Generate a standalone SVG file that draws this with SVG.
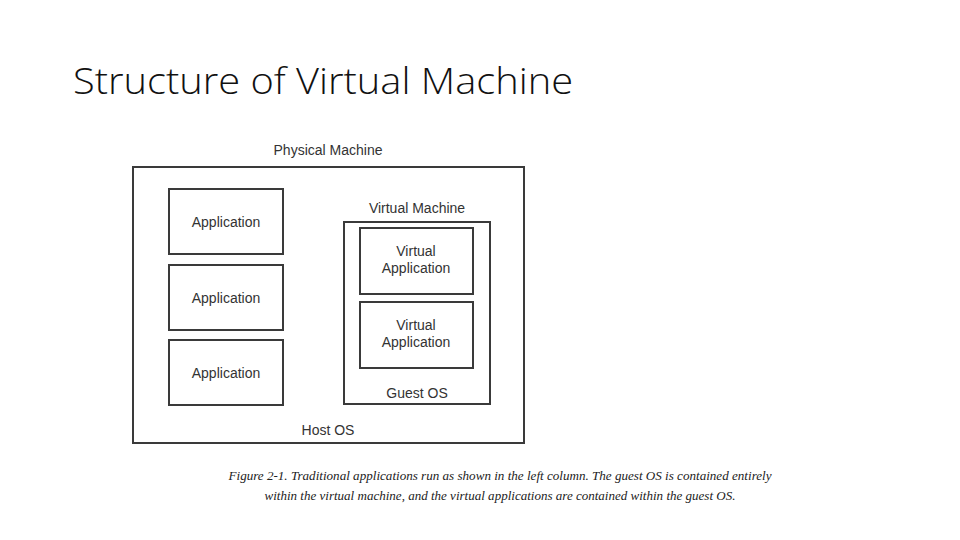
<svg xmlns="http://www.w3.org/2000/svg" width="960" height="540" viewBox="0 0 960 540">
<style>
.box{fill:#fff;stroke:#3a3a3a;stroke-width:2}
.lbl{font-family:"Liberation Sans",Arial,sans-serif;font-size:14px;fill:#333;text-anchor:middle}
.title{font-family:"Open Sans","Liberation Sans",sans-serif;font-size:36px;font-weight:300;fill:#111}
.cap{font-family:"Liberation Serif","Times New Roman",serif;font-style:italic;font-size:12px;fill:#222;text-anchor:middle}
</style>
<rect width="960" height="540" fill="#fff"/>
<text class="title" x="73" y="94" textLength="500" lengthAdjust="spacingAndGlyphs">Structure of Virtual Machine</text>
<g id="physical-machine">
<rect class="box" x="133" y="167" width="391" height="276"/>
<text class="lbl" x="328" y="155">Physical Machine</text>
<text class="lbl" x="328" y="435">Host OS</text>
</g>
<g id="app1"><rect class="box" x="169" y="189" width="114" height="65"/><text class="lbl" x="226" y="227">Application</text></g>
<g id="app2"><rect class="box" x="169" y="265" width="114" height="65"/><text class="lbl" x="226" y="303">Application</text></g>
<g id="app3"><rect class="box" x="169" y="340" width="114" height="65"/><text class="lbl" x="226" y="378">Application</text></g>
<g id="virtual-machine">
<rect class="box" x="344" y="222" width="146" height="182"/>
<text class="lbl" x="417" y="213">Virtual Machine</text>
<text class="lbl" x="417" y="398">Guest OS</text>
</g>
<g id="vapp1"><rect class="box" x="360" y="228" width="113" height="66"/><text class="lbl" x="416" y="256">Virtual</text><text class="lbl" x="416" y="273">Application</text></g>
<g id="vapp2"><rect class="box" x="360" y="302" width="113" height="66"/><text class="lbl" x="416" y="330">Virtual</text><text class="lbl" x="416" y="347">Application</text></g>
<g id="connectors"></g>
<g id="caption">
<text class="cap" x="500" y="480" textLength="543" lengthAdjust="spacingAndGlyphs">Figure 2-1. Traditional applications run as shown in the left column. The guest OS is contained entirely</text>
<text class="cap" x="500" y="500" textLength="471" lengthAdjust="spacingAndGlyphs">within the virtual machine, and the virtual applications are contained within the guest OS.</text>
</g>
</svg>
